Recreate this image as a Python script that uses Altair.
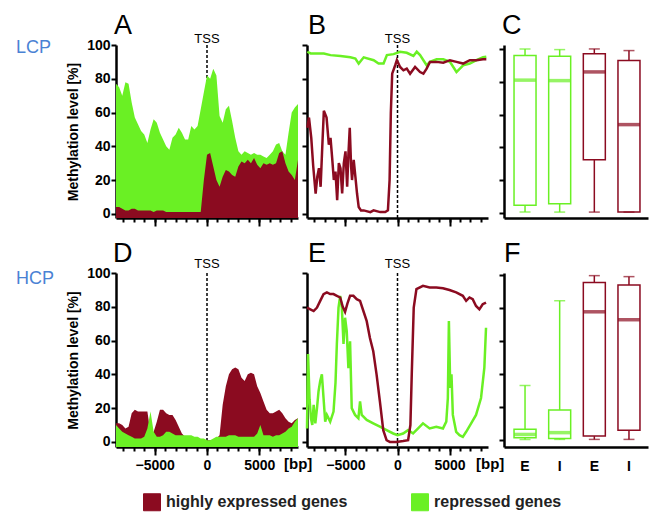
import altair as alt
import pandas as pd

FONT = "Liberation Sans"
RED = "#8b0b20"
GREEN = "#6af024"
BLUE = "#4a82d4"
GROUPS = ["highly expressed genes", "repressed genes"]

# ---------------- profile data (A, D: areas) ----------------
bp_grid = [-8700, -8400, -8100, -7800, -7500, -7200, -6900, -6600, -6300, -6000,
           -5700, -5400, -5100, -4800, -4500, -4200, -3900, -3600, -3300, -3000,
           -2700, -2400, -2100, -1800, -1500, -1200, -900, -600, -300, 0,
           300, 600, 900, 1200, 1500, 1800, 2100, 2400, 2700, 3000,
           3300, 3600, 3900, 4200, 4500, 4800, 5100, 5400, 5700, 6000,
           6300, 6600, 6900, 7200, 7500, 7800, 8100, 8400, 8700]

A_green = [77, 75, 70, 78, 77, 66, 57, 53, 49, 47, 42, 50, 56, 54, 48, 44, 40, 38, 45, 47,
           51, 48, 44, 44, 52, 50, 52, 62, 72, 82, 80, 86, 82, 58, 54, 62, 64, 55, 45, 37,
           35, 37, 36, 35, 36, 35, 35, 34, 33, 35, 37, 41, 42, 37, 35, 48, 60, 63, 65]
A_red = [4, 4, 3, 2, 2, 3, 3, 2, 2, 2, 2, 2, 1, 2, 2, 2, 1, 1, 1, 1,
         1, 1, 1, 1, 1, 1, 1, 1, 20, 35, 36, 28, 20, 16, 22, 26, 25, 23, 22, 28,
         31, 30, 32, 30, 33, 29, 27, 30, 29, 30, 29, 30, 36, 37, 30, 25, 23, 20, 32]

D_green = [10, 8, 6, 5, 4, 3, 2, 2, 2, 3, 8, 18, 6, 3, 3, 4, 6, 6, 5, 4,
           4, 4, 4, 4, 4, 3, 3, 2, 2, 1, 1, 2, 3, 3, 3, 3, 4, 4, 4, 3,
           3, 3, 3, 3, 3, 5, 10, 4, 4, 4, 3, 4, 4, 5, 6, 8, 9, 12, 14]
D_red = [11, 11, 10, 8, 9, 17, 19, 18, 18, 18, 18, 5, 6, 12, 19, 19, 17, 16, 16, 13,
         9, 5, 3, 2, 2, 2, 2, 1, 1, 1, 1, 1, 2, 4, 22, 33, 40, 43, 44, 43,
         38, 36, 40, 41, 40, 33, 29, 24, 19, 17, 17, 18, 19, 17, 14, 12, 11, 13, 14]

# ---------------- profile data (B, E: lines) ----------------
B_green_bp = [-8670, -8350, -7710, -7080, -6440, -5480, -4530, -4050, -3730, -3250,
              -2290, -1820, -1340, -1020, -380, 250, 890, 1530, 1850, 2170,
              2490, 2800, 3120, 3760, 4400, 5040, 5670, 6310, 6950, 7590, 8220, 8540]
B_green = [96, 95, 95, 95, 94, 93.5, 92.7, 92, 89, 92.7,
           91, 89, 89, 94, 94.6, 96, 95.4, 93.5, 96, 94,
           91, 88, 90, 91.5, 91.5, 90, 84, 88, 89, 91, 92.7, 93]

B_red_bp = [-8670, -8510, -8290, -8100, -7870, -7710, -7550, -7390, -7230, -7080,
            -6820, -6600, -6440, -6280, -6120, -5960, -5800, -5640, -5480, -5320,
            -5160, -5000, -4840, -4720, -4590, -4460, -4370, -4210, -4050, -3890,
            -3730, -3510, -3250, -2610, -2300, -1660, -1180, -920, -760, -640,
            -510, -220, -60, 250, 570, 890, 1210, 1690, 2170, 2490,
            2800, 3120, 3760, 4400, 5040, 5670, 6310, 6950, 7590, 8220, 8540]
B_red = [51, 57, 45, 28, 12, 22, 27, 16, 40, 61,
         57, 41, 45, 33, 20, 25, 8, 30, 27, 12,
         30, 37, 16, 35, 51, 28, 20, 32, 22, 12,
         4, 2, 2, 1, 2, 1, 1, 2, 20, 60,
         83, 88, 91, 87, 85, 86, 83, 87, 84, 83,
         86, 90, 90, 89.5, 91, 90, 89, 91, 91, 91.5, 91.5]

E_red_bp = [-8700, -8380, -8060, -7740, -7430, -7110, -6790, -6470, -6150, -5830,
            -5510, -5260, -5040, -4810, -4560, -4240, -3920, -3600, -3280, -2960,
            -2650, -2330, -2010, -1690, -1370, -1050, -730, -100, 540, 1020,
            1240, 1370, 1560, 1820, 2450, 3090, 3730, 4370, 5000, 5640,
            6280, 6600, 6920, 7230, 7550, 7870, 8190, 8510]
E_red = [79.5, 78.5, 77.5, 79.5, 83.5, 87.5, 88.5, 87.5, 87.5, 86.5,
         85.5, 80, 77, 82, 86.5, 86.5, 84.5, 83.5, 77.5, 71.5,
         61.5, 53.7, 39.8, 23.9, 7, 1, 0, 0, 0.5, 1,
         10, 40, 79.5, 90.5, 92.4, 91.4, 91.4, 91, 89.9, 88.5,
         86.5, 83.5, 85.5, 84.5, 80.5, 78.5, 81.5, 82.5]

E_green_bp = [-8700, -8600, -8450, -8320, -8190, -8060, -7900, -7740, -7590, -7430,
              -7270, -7110, -6950, -6790, -6470, -6150, -5960, -5830, -5670, -5510,
              -5350, -5190, -5040, -4880, -4720, -4560, -4400, -4080, -3760, -3600,
              -3440, -2960, -2330, -1690, -1050, -410, 0, 540, 1020, 1500,
              1980, 2450, 3090, 3730, 4370, 4690, 4840, 4940, 5070, 5190,
              5320, 5640, 5960, 6280, 6600, 7080, 7550, 8030, 8350, 8510]
E_green = [8, 52, 25, 14, 10, 22, 11, 20, 30, 36,
           40, 26, 12, 16, 12, 18, 35, 58, 79.5, 86.5,
           79.5, 58, 73.5, 65.6, 43.7, 59.6, 20, 16, 14, 24,
           16, 13, 11, 9, 7, 5, 4, 5, 7, 5,
           8, 11, 8, 9, 8, 12, 26, 71.6, 32, 40,
           16, 6, 4, 3, 6, 11, 16, 26, 44, 67.6]

# ---------------- box plot data (C, F) ----------------
box_cat = ["E_r", "I_r", "E_h", "I_h"]
box_group = ["repressed genes", "repressed genes",
             "highly expressed genes", "highly expressed genes"]
C_min = [0.6, 0.6, 0.6, 0.6]
C_q1 = [4.7, 5.7, 32.5, 0.6]
C_med = [81, 80.7, 86, 53.9]
C_q3 = [96, 95.5, 97, 93]
C_max = [100, 99.6, 100, 99]
F_min = [0.4, 0.4, 0.4, 0.4]
F_q1 = [1.4, 1.0, 2.4, 5.9]
F_med = [3.4, 4.5, 77.7, 72.9]
F_q3 = [6.5, 18.2, 95.5, 94]
F_max = [33, 84.4, 99.6, 99]

# ---------------- layout constants ----------------
W1, W2, W3 = 182, 181, 151
H1, H2 = 173, 174
Y_TICKS = [0, 20, 40, 60, 80, 100]
MINOR = [-8000, -7000, -6000, -5000, -4000, -3000, -2000, -1000, 0,
         1000, 2000, 3000, 4000, 5000, 6000, 7000, 8000]
MAJOR = [-5000, 0, 5000]
LETTER_DY = -11
LETTER_SIZE = 27

color_scale = alt.Scale(domain=GROUPS, range=[RED, GREEN])
x_scale = alt.Scale(domain=[-8700, 8700], nice=False, zero=False)


def color_enc(show_legend=False):
    if show_legend:
        return alt.Color("group:N", scale=color_scale, legend=alt.Legend(
            title=None, orient="none", legendX=27, legendY=448, direction="horizontal",
            symbolType="square", symbolSize=289, symbolStrokeColor="#333333",
            symbolStrokeWidth=1, symbolOpacity=1, labelFont=FONT, labelFontSize=16,
            labelFontWeight="bold", labelColor="#222222", labelOffset=5,
            columnPadding=61, labelLimit=400, padding=0))
    return alt.Color("group:N", scale=color_scale, legend=None)


def y_axis(show):
    if show:
        return alt.Axis(values=Y_TICKS, tickSize=5, tickWidth=2, domainWidth=2.5,
                        labelFontSize=14, labelFontWeight="bold", labelPadding=1,
                        title="Methylation level [%]", titleFontSize=14,
                        titleFontWeight="bold", titlePadding=6, grid=False)
    return alt.Axis(values=Y_TICKS, tickSize=5, tickWidth=2, domainWidth=2.5,
                    labels=False, title=None, grid=False)


def minor_axis():
    return alt.Axis(values=MINOR, labels=False, tickSize=4, tickWidth=2,
                    domainWidth=2.5, title=None, orient="bottom", grid=False)


def major_axis(show):
    return alt.Axis(values=MAJOR, labels=show, domain=False, tickSize=8, tickWidth=2,
                    title=None, format="d", orient="bottom", labelFontSize=14,
                    labelFontWeight="bold", labelPadding=3, grid=False)


def text_layer(text, dx, dy, size, color="black", weight="normal", align="left"):
    return alt.Chart(pd.DataFrame({"t": [text]})).mark_text(
        align=align, baseline="alphabetic", font=FONT, fontSize=size,
        fontWeight=weight, color=color).encode(text="t:N", x=alt.value(dx), y=alt.value(dy))


def tss_layers(show_labels, dy):
    rule = alt.Chart(pd.DataFrame({"pos": [0]})).mark_rule(
        color="black", strokeDash=[3, 2], strokeWidth=1.5).encode(
        x=alt.X("pos:Q", scale=x_scale, axis=major_axis(show_labels)))
    txt = alt.Chart(pd.DataFrame({"pos": [0], "t": ["TSS"]})).mark_text(
        font=FONT, fontSize=13, baseline="alphabetic", align="center").encode(
        x=alt.X("pos:Q", scale=x_scale, axis=None), y=alt.value(dy), text="t:N")
    return rule, txt


def series(xs, ys, group):
    return pd.DataFrame({"bp": xs, "value": ys, "group": group})


def area_panel(green, red, H, ydom, letter, ldx, side, side_dy, show_x, legend, tss_dy,
               green_on_top):
    ysc = alt.Scale(domain=ydom, nice=False, zero=False)
    rule, txt = tss_layers(show_x, tss_dy)
    g_df = series(bp_grid, green, "repressed genes")
    r_df = series(bp_grid, red, "highly expressed genes")
    first_df, second_df = (r_df, g_df) if green_on_top else (g_df, r_df)
    first = alt.Chart(first_df).mark_area(opacity=1).encode(
        x=alt.X("bp:Q", scale=x_scale, axis=minor_axis()),
        y=alt.Y("value:Q", scale=ysc, axis=y_axis(True)),
        y2=alt.datum(ydom[0]),
        color=color_enc(legend))
    second = alt.Chart(second_df).mark_area(opacity=1).encode(
        x=alt.X("bp:Q", scale=x_scale, axis=None),
        y=alt.Y("value:Q", scale=ysc, axis=y_axis(True)),
        y2=alt.datum(ydom[0]),
        color=color_enc(False))
    layers = [rule, first, second, txt,
              text_layer(letter, ldx, LETTER_DY, LETTER_SIZE),
              text_layer(side, -100, side_dy, 18, color=BLUE)]
    if show_x:
        layers.append(text_layer("[bp]", 168, H + 22, 15, weight="bold"))
    return alt.layer(*layers).resolve_axis(x="independent").properties(width=W1, height=H)


def line_panel(gx, gy, rx, ry, H, ydom, letter, ldx, show_x, tss_dy):
    ysc = alt.Scale(domain=ydom, nice=False, zero=False)
    rule, txt = tss_layers(show_x, tss_dy)
    g = alt.Chart(series(gx, gy, "repressed genes")).mark_line(strokeWidth=2.5).encode(
        x=alt.X("bp:Q", scale=x_scale, axis=minor_axis()),
        y=alt.Y("value:Q", scale=ysc, axis=y_axis(False)),
        color=color_enc(False))
    r = alt.Chart(series(rx, ry, "highly expressed genes")).mark_line(strokeWidth=2.5).encode(
        x=alt.X("bp:Q", scale=x_scale, axis=None),
        y=alt.Y("value:Q", scale=ysc, axis=y_axis(False)),
        color=color_enc(False))
    layers = [rule, g, r, txt, text_layer(letter, ldx, LETTER_DY, LETTER_SIZE)]
    if show_x:
        layers.append(text_layer("[bp]", 169, H + 22, 15, weight="bold"))
    return alt.layer(*layers).resolve_axis(x="independent").properties(width=W2, height=H)


def box_panel(mins, q1, med, q3, maxs, H, ydom, letter, ldx, show_x):
    df = pd.DataFrame({"cat": box_cat, "group": box_group, "lo": mins, "q1": q1,
                       "med": med, "q3": q3, "hi": maxs})
    ysc = alt.Scale(domain=ydom, nice=False, zero=False)
    yax = alt.Axis(values=Y_TICKS, tickSize=5, tickWidth=2, domainWidth=2.5,
                   labels=False, title=None, grid=False, offset=-7)
    xax = alt.Axis(labels=show_x, ticks=False, tickSize=0, domainWidth=2.5,
                   domainDash=[0, 7, 1000], title=None, labelAngle=0,
                   labelExpr="substring(datum.label, 0, 1)", labelFontSize=14,
                   labelFontWeight="bold", labelPadding=12, grid=False)
    xe = alt.X("cat:N", scale=alt.Scale(domain=box_cat, paddingInner=0,
                                        paddingOuter=0.179, align=0.863), axis=xax)
    base = alt.Chart(df)
    ce = color_enc(False)
    hi_w = base.mark_rule(strokeWidth=1.5).encode(
        x=xe, y=alt.Y("q3:Q", scale=ysc, axis=yax), y2="hi:Q", color=ce)
    lo_w = base.mark_rule(strokeWidth=1.5).encode(
        x=xe, y=alt.Y("lo:Q", scale=ysc, axis=yax), y2="q1:Q", color=ce)
    hi_c = base.mark_tick(size=11, thickness=1.5).encode(
        x=xe, y=alt.Y("hi:Q", scale=ysc, axis=yax), color=ce)
    lo_c = base.mark_tick(size=11, thickness=1.5).encode(
        x=xe, y=alt.Y("lo:Q", scale=ysc, axis=yax), color=ce)
    box = base.mark_bar(filled=False, size=22, strokeWidth=1.5).encode(
        x=xe, y=alt.Y("q1:Q", scale=ysc, axis=yax), y2="q3:Q", color=ce)
    md = base.mark_tick(size=22, thickness=3.5).encode(
        x=xe, y=alt.Y("med:Q", scale=ysc, axis=yax), color=ce)
    return alt.layer(hi_w, lo_w, hi_c, lo_c, box, md,
                     text_layer(letter, ldx, LETTER_DY, LETTER_SIZE)).properties(width=W3, height=H)


A = area_panel(A_green, A_red, H1, [-2.5, 100], "A", -2, "LCP", 8, False, True, -2, False)
B = line_panel(B_green_bp, B_green, B_red_bp, B_red, H1, [-2.5, 100], "B", 1, False, -2)
C = box_panel(C_min, C_q1, C_med, C_q3, C_max, H1, [-3, 102.4], "C", 5, False)
D = area_panel(D_green, D_red, H2, [-3, 100], "D", -3, "HCP", 11, True, False, -5, True)
E = line_panel(E_green_bp, E_green, E_red_bp, E_red, H2, [-3, 100], "E", 1, True, -5)
F = box_panel(F_min, F_q1, F_med, F_q3, F_max, H2, [-4.2, 101.2], "F", 7, True)

chart = alt.concat(A, B, C, D, E, F, columns=3,
                   spacing={"row": 55, "column": 9}, bounds="flush").properties(
    padding={"left": 7, "top": 3, "right": 5, "bottom": 5},
    background="white"
).configure_view(stroke="transparent").configure_axis(
    domainColor="black", tickColor="black", labelColor="black",
    labelFont=FONT, titleFont=FONT, titleColor="black"
)

chart.save("out.html", embed_options={"renderer": "svg", "actions": False})
